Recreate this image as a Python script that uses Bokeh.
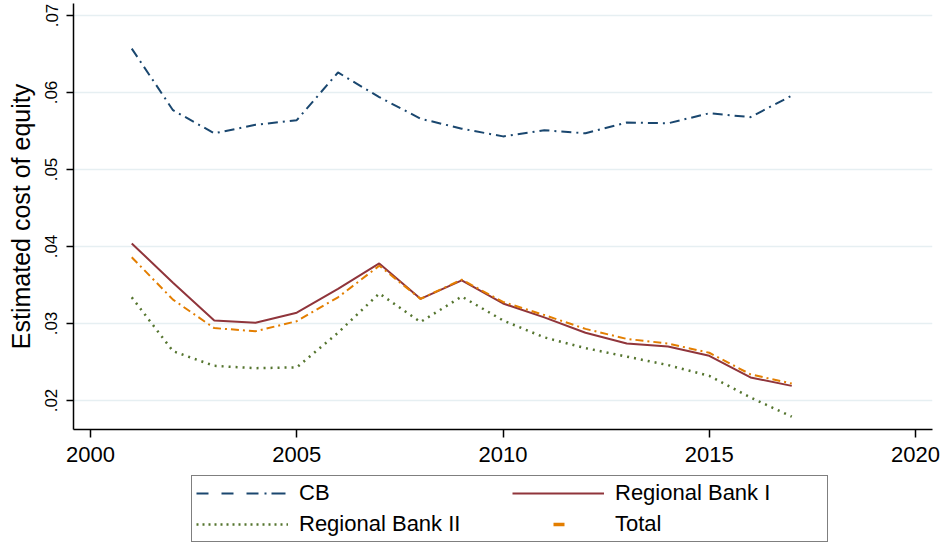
from bokeh.plotting import figure
from bokeh.models import Range1d, FixedTicker, Legend, LegendItem
from bokeh.layouts import column
from bokeh.embed import file_html
from bokeh.resources import INLINE

# ---- data ----
years = [2001, 2002, 2003, 2004, 2005, 2006, 2007, 2008, 2009,
         2010, 2011, 2012, 2013, 2014, 2015, 2016, 2017]
cb = [0.0657, 0.0577, 0.0547, 0.0558, 0.0564, 0.0626, 0.0594, 0.0566, 0.0553,
      0.0543, 0.0551, 0.0547, 0.0561, 0.0560, 0.0573, 0.0568, 0.0596]
regional_bank_1 = [0.0404, 0.0353, 0.0304, 0.0301, 0.0314, 0.0345, 0.0378, 0.0332, 0.0356,
                   0.0326, 0.0308, 0.0288, 0.0274, 0.0270, 0.0258, 0.0230, 0.0219]
regional_bank_2 = [0.0334, 0.0264, 0.0245, 0.0242, 0.0243, 0.0288, 0.0339, 0.0302, 0.0335,
                   0.0304, 0.0282, 0.0268, 0.0257, 0.0246, 0.0232, 0.0204, 0.0179]
total = [0.0386, 0.0331, 0.0294, 0.0290, 0.0303, 0.0334, 0.0375, 0.0332, 0.0357,
         0.0328, 0.0311, 0.0293, 0.0280, 0.0274, 0.0262, 0.0234, 0.0222]

series_labels = ["CB", "Regional Bank I", "Regional Bank II", "Total"]
x_ticks = [2000, 2005, 2010, 2015, 2020]
y_ticks = [0.02, 0.03, 0.04, 0.05, 0.06, 0.07]
y_tick_labels = [".02", ".03", ".04", ".05", ".06", ".07"]
y_title = "Estimated cost of equity"

FONT = "Liberation Sans"
C_CB = "#1a476f"
C_RB1 = "#90353b"
C_RB2 = "#55752f"
C_TOT = "#e37e00"

p = figure(width=944, height=472, output_backend="svg", toolbar_location=None,
           title=None,
           x_range=Range1d(1999.588, 2020.412),
           y_range=Range1d(0.016234, 0.071558),
           min_border_left=73, min_border_right=12, min_border_top=3,
           min_border_bottom=43)
p.outline_line_color = None
p.background_fill_color = "white"
p.border_fill_color = "white"

# axes
p.xaxis.ticker = FixedTicker(ticks=x_ticks)
p.xaxis.major_label_text_font = FONT
p.xaxis.major_label_text_font_size = "22px"
p.xaxis.major_label_text_color = "#000000"
p.xaxis.major_tick_out = 8
p.xaxis.major_tick_in = 0
p.xaxis.minor_tick_line_color = None
p.xaxis.major_label_standoff = 9

p.yaxis.ticker = FixedTicker(ticks=y_ticks)
p.yaxis.major_label_overrides = {t: l for t, l in zip(y_ticks, y_tick_labels)}
p.yaxis.major_label_orientation = "vertical"
p.yaxis.major_label_text_font = FONT
p.yaxis.major_label_text_font_size = "17px"
p.yaxis.major_label_text_color = "#000000"
p.yaxis.major_tick_out = 7
p.yaxis.major_tick_in = 0
p.yaxis.minor_tick_line_color = None
p.yaxis.major_label_standoff = 9
p.yaxis.axis_label = y_title
p.yaxis.axis_label_text_font = FONT
p.yaxis.axis_label_text_font_size = "25px"
p.yaxis.axis_label_text_font_style = "normal"
p.yaxis.axis_label_text_color = "#000000"
p.yaxis.axis_label_standoff = 8

for ax in (p.xaxis, p.yaxis):
    ax.axis_line_color = "#000000"
    ax.axis_line_width = 1.5
    ax.major_tick_line_color = "#000000"
    ax.major_tick_line_width = 1.5

p.xgrid.visible = False
p.ygrid.grid_line_color = "#e6eff2"
p.ygrid.grid_line_width = 1.5

# series
p.line(years, cb, line_color=C_CB, line_width=2, line_dash="10 5 2 5")
p.line(years, regional_bank_1, line_color=C_RB1, line_width=2)
p.line(years, regional_bank_2, line_color=C_RB2, line_width=2.5, line_dash="2 5")
p.line(years, total, line_color=C_TOT, line_width=2, line_dash="8 4 2 4")

# ---- legend strip below the plot ----
lg = figure(width=944, height=71, output_backend="svg", toolbar_location=None,
            title=None, x_range=Range1d(0, 1), y_range=Range1d(0, 1),
            x_axis_location=None, y_axis_location=None,
            min_border_left=0, min_border_right=0, min_border_top=0,
            min_border_bottom=0)
lg.outline_line_color = None
lg.xgrid.visible = False
lg.ygrid.visible = False
lg.border_fill_color = "white"

nan = float("nan")
k_cb = lg.line([0], [nan], line_color=C_CB, line_width=2,
               line_dash="12 13 12 13 12 6 2 5 14 100")
k_rb1 = lg.line([0], [nan], line_color=C_RB1, line_width=2)
k_rb2 = lg.line([0], [nan], line_color=C_RB2, line_width=2.5, line_dash="2 4")
k_tot = lg.line([0], [nan], line_color=C_TOT, line_width=3.5, line_dash="0 41 11 100")

legend = Legend(
    items=[LegendItem(label=series_labels[0], renderers=[k_cb]),
           LegendItem(label=series_labels[1], renderers=[k_rb1]),
           LegendItem(label=series_labels[2], renderers=[k_rb2]),
           LegendItem(label=series_labels[3], renderers=[k_tot])],
    location=(118, 1), orientation="horizontal", ncols=2,
    label_text_font=FONT, label_text_font_size="22px", label_text_color="#000000",
    glyph_width=92, glyph_height=20, label_standoff=11, label_width=208,
    padding=4, spacing=5, margin=0,
    border_line_color="#000000", border_line_width=1.2,
    background_fill_color="white", background_fill_alpha=1.0,
)
lg.add_layout(legend)

page = column(p, lg, spacing=0)
open("out.html", "w").write(file_html(page, INLINE))
